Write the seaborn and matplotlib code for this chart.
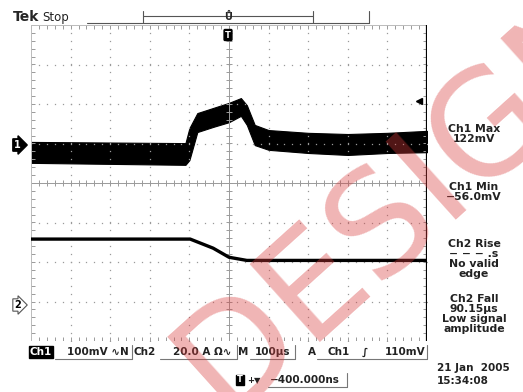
import numpy as np
import pandas as pd
import seaborn as sns
import matplotlib.pyplot as plt

# Ch1 trace (divisions): time position, upper and lower edge of the noisy band
ch1_x = [0.0, 3.9, 4.0, 4.2, 4.6, 5.0, 5.3, 5.45, 5.65, 6.0, 7.0, 8.0, 9.0, 10.0]
ch1_hi = [1.04, 1.01, 1.39, 1.77, 1.90, 2.03, 2.15, 1.97, 1.47, 1.34, 1.27, 1.24, 1.27, 1.32]
ch1_lo = [0.51, 0.46, 0.58, 1.29, 1.42, 1.54, 1.70, 1.47, 0.96, 0.84, 0.76, 0.71, 0.76, 0.78]

# Ch2 trace (divisions)
ch2_x = [0.0, 4.02, 4.6, 5.0, 5.45, 7.0, 10.0]
ch2_y = [-1.42, -1.42, -1.65, -1.88, -1.96, -1.96, -1.96]

meas_labels = ['Ch1 Max\n122mV', 'Ch1 Min\n\u221256.0mV', 'Ch2 Rise\n\u2212 \u2212 \u2212 .s\nNo valid\nedge',
               'Ch2 Fall\n90.15\u00b5s\nLow signal\namplitude']

sns.set_style('white')
plt.rcParams['font.family'] = ['DejaVu Sans']

W, H = 523, 392
fig = plt.figure(figsize=(W / 100, H / 100), dpi=100)
ax = fig.add_axes([31 / W, (H - 341) / H, 396 / W, 316 / H])
ax.set_xlim(0, 10)
ax.set_ylim(-4, 4)
ax.set_xticks([])
ax.set_yticks([])
for s in ax.spines.values():
    s.set_visible(False)

def px(x, y):
    return x / W, 1 - y / H

grey = '#9a9a9a'
# dotted graticule
fine = np.arange(0, 10.01, 0.2)
for gx in [1, 2, 3, 4, 6, 7, 8, 9]:
    ax.plot(np.full(41, gx), np.arange(-4, 4.01, 0.2), ls='none', marker='s', ms=0.9, color=grey, mew=0)
for gy in [-3, -2, -1, 1, 2, 3]:
    ax.plot(fine, np.full(len(fine), gy), ls='none', marker='s', ms=0.9, color=grey, mew=0)
# centre crosshair and border ticks
ax.axhline(0, color=grey, lw=0.7)
ax.axvline(5, color=grey, lw=0.7)
ax.vlines(fine, -0.08, 0.08, color=grey, lw=0.7)
ax.hlines(np.arange(-4, 4.01, 0.2), 4.92, 5.08, color=grey, lw=0.7)
ax.vlines(fine, 3.9, 4.0, color=grey, lw=0.7)
ax.vlines(fine, -4.0, -3.9, color=grey, lw=0.7)
ax.hlines(np.arange(-4, 4.01, 0.2), 0, 0.1, color=grey, lw=0.7)
ax.hlines(np.arange(-4, 4.01, 0.2), 9.9, 10, color=grey, lw=0.7)
ax.axhline(4, color='#bbbbbb', lw=0.7)
ax.axhline(-4, color='#bbbbbb', lw=0.7)
ax.axvline(0, color='#bbbbbb', lw=0.7)
ax.axvline(10, color='black', lw=1.6)

# traces
ax.fill_between(ch1_x, ch1_lo, ch1_hi, color='black', lw=0.8, edgecolor='black')
df2 = pd.DataFrame({'t': ch2_x, 'v': ch2_y})
sns.lineplot(data=df2, x='t', y='v', ax=ax, color='black', lw=2.4)
ax.set_xlabel('')
ax.set_ylabel('')

# trigger level arrow
ax.plot([9.8], [2.08], marker='<', color='black', ms=4.5)

# channel markers
fig.text(*px(14, 145), '1', color='white', fontsize=7, fontweight='bold', ha='left', va='center',
         bbox=dict(boxstyle='rarrow,pad=0.12', fc='black', ec='black'))
fig.text(*px(14, 305), '2', color='black', fontsize=7, fontweight='bold', ha='left', va='center',
         bbox=dict(boxstyle='rarrow,pad=0.12', fc='white', ec='#555555', lw=0.8))

# header
fig.text(*px(13, 17), 'Tek', fontsize=10, fontweight='bold', va='center')
fig.text(*px(42, 17), 'Stop', fontsize=8.5, va='center', color='#222222')
for xs, ys in [([87, 369], [23, 23]), ([143, 313], [16, 16]), ([143, 143], [11, 23]),
               ([313, 313], [11, 23]), ([369, 369], [11, 23])]:
    fig.add_artist(plt.Line2D([x / W for x in xs], [1 - y / H for y in ys], color='#555555', lw=0.8))
fig.text(*px(228, 17), '\u016e', fontsize=7, fontweight='bold', ha='center', va='center')
fig.text(*px(228, 35), 'T', fontsize=6, fontweight='bold', color='white', ha='center', va='center',
         bbox=dict(boxstyle='round,pad=0.12', fc='black', ec='black'))

# measurements
for lab, y in zip(meas_labels, [124, 182, 239, 294]):
    fig.text(*px(474, y), lab, fontsize=7.8, fontweight='bold', ha='center', va='top', linespacing=1.0,
             color='#222222')

# status bar
fs = 7.5
fig.text(*px(30, 352), 'Ch1', fontsize=fs, fontweight='bold', color='white', va='center',
         bbox=dict(boxstyle='square,pad=0.08', fc='black', ec='black'))
fig.text(*px(67, 352), '100mV \u223fN', fontsize=fs, fontweight='bold', va='center', color='#222222')
fig.text(*px(134, 352), 'Ch2', fontsize=fs, fontweight='bold', va='center', color='#222222')
fig.text(*px(173, 352), '20.0 A \u03a9\u223f', fontsize=fs, fontweight='bold', va='center', color='#222222')
fig.text(*px(238, 352), 'M', fontsize=fs, fontweight='bold', va='center', color='#222222')
fig.text(*px(255, 352), '100\u00b5s', fontsize=fs, fontweight='bold', va='center', color='#222222')
fig.text(*px(308, 352), 'A', fontsize=fs, fontweight='bold', va='center', color='#222222')
fig.text(*px(327, 352), 'Ch1', fontsize=fs, fontweight='bold', va='center', color='#222222')
fig.text(*px(362, 352), '\u222b', fontsize=fs, fontweight='bold', va='center', color='#222222')
fig.text(*px(425, 352), '110mV', fontsize=fs, fontweight='bold', va='center', ha='right', color='#222222')
for x0, x1 in [(55, 132), (160, 237), (250, 295), (317, 427)]:
    fig.add_artist(plt.Line2D([x0 / W, x1 / W], [1 - 359 / H] * 2, color='#777777', lw=0.8))
    fig.add_artist(plt.Line2D([x1 / W] * 2, [1 - 359 / H, 1 - 345 / H], color='#777777', lw=0.8))

fig.text(*px(240, 380), 'T', fontsize=6, fontweight='bold', color='white', ha='center', va='center',
         bbox=dict(boxstyle='square,pad=0.1', fc='black', ec='black'))
fig.text(*px(247, 380), '+\u25bc', fontsize=6, fontweight='bold', va='center', color='#222222')
fig.text(*px(270, 380), '\u2212400.000ns', fontsize=fs, fontweight='bold', va='center', color='#222222')
fig.add_artist(plt.Line2D([268 / W, 347 / W], [1 - 387 / H] * 2, color='#777777', lw=0.8))
fig.add_artist(plt.Line2D([347 / W] * 2, [1 - 387 / H, 1 - 373 / H], color='#777777', lw=0.8))
fig.text(*px(437, 368), '21 Jan  2005', fontsize=fs, fontweight='bold', va='center', color='#222222')
fig.text(*px(437, 381), '15:34:08', fontsize=fs, fontweight='bold', va='center', color='#222222')

# watermark
fig.text(*px(405, 200), 'DESIGN', fontsize=104, color='#d83c3c', alpha=0.38, rotation=42,
         ha='center', va='center', rotation_mode='anchor')

fig.savefig('out.png', dpi=100)
